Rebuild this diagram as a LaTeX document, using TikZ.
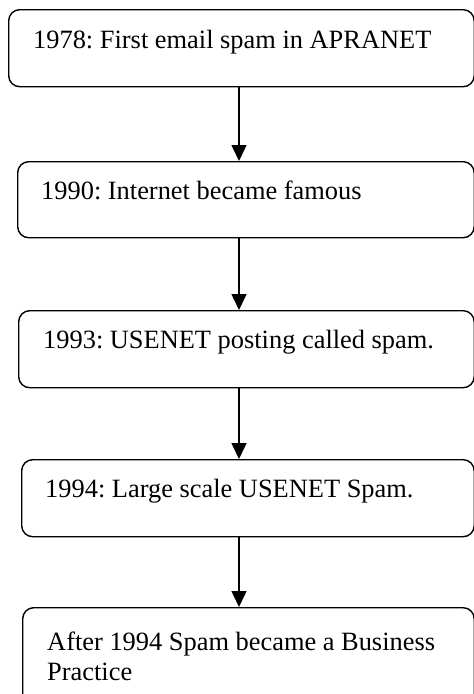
\documentclass[tikz,border=0pt]{standalone}
\usepackage{fontspec}
\setmainfont{Liberation Serif}
\usetikzlibrary{arrows.meta}
\frenchspacing
\begin{document}
\begin{tikzpicture}[x=1pt,y=-1pt,
  stagebox/.style={draw=black, line width=1.4pt, rounded corners=11pt, rectangle, inner sep=0pt, anchor=north west},
  stagetext/.style={anchor=base west, inner sep=0pt, font=\fontsize{26.4pt}{30pt}\selectfont, align=left},
  flow/.style={line width=1.5pt, -{Triangle[length=16pt,width=15pt]}}]
\useasboundingbox (0,0) rectangle (474,694);
\coordinate (ax) at (239,0);
\node[stagebox, minimum width=465.5pt, minimum height=77pt] (b1) at (8,9) {};
\node[stagebox, minimum width=456.5pt, minimum height=76pt] (b2) at (17,161) {};
\node[stagebox, minimum width=455.5pt, minimum height=77pt] (b3) at (18,310) {};
\node[stagebox, minimum width=452.5pt, minimum height=77pt] (b4) at (21,459) {};
\node[stagebox, minimum width=451.5pt, minimum height=100pt] (b5) at (22,607) {};
\node[stagetext] (t1) at (33,48) {1978: First email spam in APRANET};
\node[stagetext] (t2) at (41,199) {1990: Internet became famous};
\node[stagetext] (t3) at (43,348) {1993: USENET posting called spam.};
\node[stagetext] (t4) at (45,497) {1994: Large scale USENET Spam.};
\node[stagetext] (t5) at (47,680) {After 1994 Spam became a Business\\Practice};
\draw[flow] (b1.south -| ax) -- (b2.north -| ax);
\draw[flow] (b2.south -| ax) -- (b3.north -| ax);
\draw[flow] (b3.south -| ax) -- (b4.north -| ax);
\draw[flow] (b4.south -| ax) -- (b5.north -| ax);
\end{tikzpicture}
\end{document}
